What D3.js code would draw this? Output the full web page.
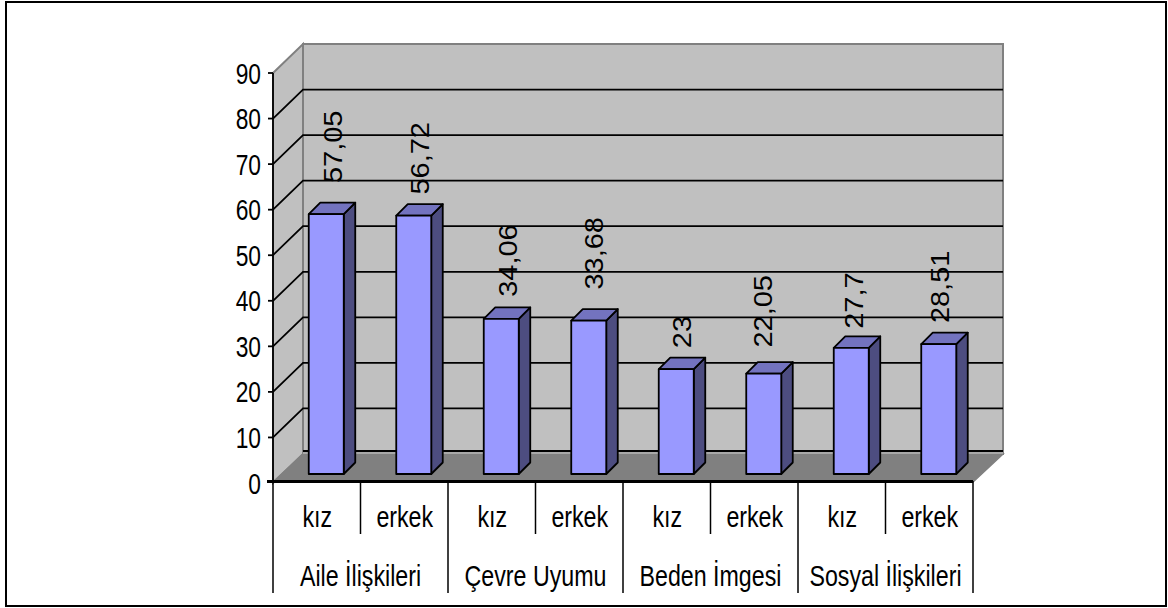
<!DOCTYPE html>
<html>
<head>
<meta charset="utf-8">
<script src="https://cdnjs.cloudflare.com/ajax/libs/d3/7.8.5/d3.min.js"></script>
<style>
  html, body { margin: 0; padding: 0; background: #fff; }
  svg { display: block; }
  text { font-family: "Liberation Sans", Arial, sans-serif; fill: #000; }
</style>
</head>
<body>
<div id="chart"></div>
<script>
const groups = ["Aile İlişkileri", "Çevre Uyumu", "Beden İmgesi", "Sosyal İlişkileri"];
const genders = ["kız", "erkek"];
const values = [57.05, 56.72, 34.06, 33.68, 23, 22.05, 27.7, 28.51];
const valueLabels = ["57,05", "56,72", "34,06", "33,68", "23", "22,05", "27,7", "28,51"];
const yTicks = [0, 10, 20, 30, 40, 50, 60, 70, 80, 90];

const width = 1168, height = 608;
const svg = d3.select("#chart").append("svg").attr("width", width).attr("height", height);

// frame around the chart
svg.append("rect").attr("x", 6).attr("y", 2).attr("width", 1160).attr("height", 604)
    .attr("fill", "#fff").attr("stroke", "#000").attr("stroke-width", 2);

// front plane scales, the back wall is the same plane shifted by depth
const x = d3.scaleLinear().domain([0, 8]).range([273, 973]);
const y = d3.scaleLinear().domain([0, 90]).range([483, 73]);
const depth = {dx: 30, dy: -29};
const barShift = {dx: 9.5, dy: -9};
const barSide = {dx: 11.5, dy: -11.5};
const barWidth = 35;
// offsets of the rotated labels from the bar top right corner, uneven in the original
const labelGaps = [31, 21, 22, 31, 21, 26, 19, 21];
const labelInsets = [2, 2, 2, 3, 3, 9, 6, 7];

const poly = pts => pts.map(p => p.join(",")).join(" ");
const x0 = x(0), x1 = x(8), y0 = y(0), y90 = y(90);

// walls
svg.append("polygon")
    .attr("points", poly([[x0 + depth.dx, y90 + depth.dy], [x1 + depth.dx, y90 + depth.dy], [x1 + depth.dx, y0 + depth.dy], [x0 + depth.dx, y0 + depth.dy]]))
    .attr("fill", "#c0c0c0").attr("stroke", "#808080").attr("stroke-width", 2);
svg.append("polygon")
    .attr("points", poly([[x0, y90], [x0 + depth.dx, y90 + depth.dy], [x0 + depth.dx, y0 + depth.dy], [x0, y0]]))
    .attr("fill", "#c0c0c0").attr("stroke", "#808080").attr("stroke-width", 2);

// gridlines
yTicks.slice(1, -1).forEach(t => {
    svg.append("polyline")
        .attr("points", poly([[x0, y(t)], [x0 + depth.dx, y(t) + depth.dy], [x1 + depth.dx, y(t) + depth.dy]]))
        .attr("fill", "none").attr("stroke", "#000").attr("stroke-width", 1.8);
});

// floor
svg.append("polygon")
    .attr("points", poly([[x0, y0 - 1], [x0 + depth.dx, y0 + depth.dy], [x1 + depth.dx, y0 + depth.dy], [x1, y0 - 1]]))
    .attr("fill", "#808080").attr("stroke", "#808080").attr("stroke-width", 1.5);
svg.append("line").attr("x1", x0 + depth.dx).attr("x2", x1 + depth.dx)
    .attr("y1", y0 + depth.dy - 3).attr("y2", y0 + depth.dy - 3)
    .attr("stroke", "#000").attr("stroke-width", 1.8);
svg.append("line").attr("x1", x0 + depth.dx).attr("x2", x1 + depth.dx)
    .attr("y1", y0 + depth.dy - 1).attr("y2", y0 + depth.dy - 1)
    .attr("stroke", "#a8a8a8").attr("stroke-width", 2);

// bars
values.forEach((v, i) => {
    let left = x(i + 0.5) - barWidth / 2 + barShift.dx;
    let right = left + barWidth;
    let bottom = y(0) + barShift.dy;
    let top = y(v) + barShift.dy;
    let g = svg.append("g").attr("stroke", "#000").attr("stroke-width", 1.8).attr("stroke-linejoin", "round");
    g.append("polygon")
        .attr("points", poly([[right, top], [right + barSide.dx, top + barSide.dy], [right + barSide.dx, bottom + barSide.dy], [right, bottom]]))
        .attr("fill", "#4d4d80");
    g.append("polygon")
        .attr("points", poly([[left, top], [left + barSide.dx, top + barSide.dy], [right + barSide.dx, top + barSide.dy], [right, top]]))
        .attr("fill", "#7373bf");
    g.append("rect").attr("x", left).attr("y", top).attr("width", barWidth).attr("height", bottom - top)
        .attr("fill", "#9999ff");

    // value label, rotated
    svg.append("text")
        .attr("transform", `translate(${right - labelInsets[i]}, ${top - labelGaps[i]}) rotate(-90) scale(1, 0.9)`)
        .attr("font-size", 29)
        .attr("text-anchor", "start")
        .text(valueLabels[i]);
});

// heavy base line and axes
svg.append("line").attr("x1", x0 - 6).attr("x2", x1).attr("y1", y0 - 1.5).attr("y2", y0 - 1.5)
    .attr("stroke", "#000").attr("stroke-width", 3);
svg.append("line").attr("x1", x0).attr("x2", x0).attr("y1", y90).attr("y2", y0)
    .attr("stroke", "#000").attr("stroke-width", 1.8);

// y ticks
yTicks.forEach(t => {
    if (t > 0) {
        svg.append("line").attr("x1", x0 - 5).attr("x2", x0).attr("y1", y(t)).attr("y2", y(t))
            .attr("stroke", "#000").attr("stroke-width", 1.8);
    }
    svg.append("text")
        .attr("transform", `translate(${x0 - 12}, ${y(t) + 10.5}) scale(0.76, 1)`)
        .attr("font-size", 30).attr("text-anchor", "end")
        .text(t);
});

// two level category axis
d3.range(9).forEach(i => {
    let major = i % 2 === 0;
    svg.append("line").attr("x1", x(i)).attr("x2", x(i))
        .attr("y1", y0 - 2).attr("y2", major ? 593 : 534)
        .attr("stroke", "#000").attr("stroke-width", 1.5);
});
values.forEach((v, i) => {
    svg.append("text")
        .attr("transform", `translate(${x(i + 0.5) + 0.5}, 527) scale(0.8, 1)`)
        .attr("font-size", 29).attr("text-anchor", "middle")
        .text(genders[i % 2]);
});
groups.forEach((g, i) => {
    svg.append("text")
        .attr("transform", `translate(${x(2 * i + 1)}, 586) scale(0.8, 1)`)
        .attr("font-size", 29).attr("text-anchor", "middle")
        .text(g);
});
</script>
</body>
</html>
